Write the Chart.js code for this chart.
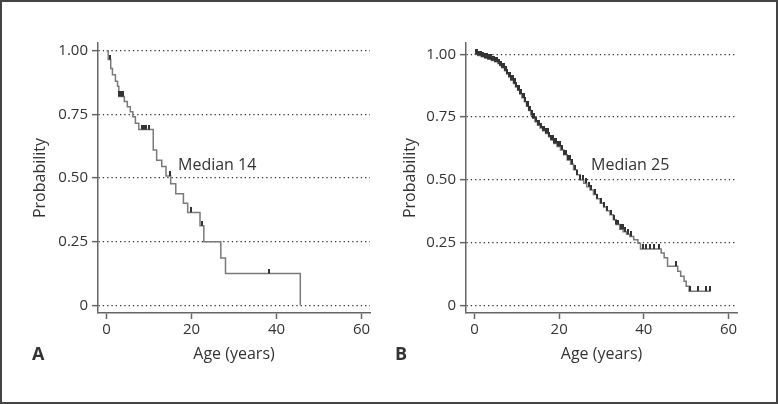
<!DOCTYPE html>
<html>
<head>
<meta charset="utf-8">
<script src="https://cdn.jsdelivr.net/npm/chart.js@4.4.1/dist/chart.umd.min.js"></script>
<style>
body { margin: 0; background: #fff; }
#wrap { position: relative; width: 778px; height: 404px; font-family: 'Open Sans', sans-serif; color: #333; }
#frame { position: absolute; left: 0; top: 0; width: 778px; height: 404px; box-sizing: border-box; border: 2px solid #444; pointer-events: none; }
canvas { position: absolute; top: 0; }
#chartA { left: 0; }
#chartB { left: 389px; }
.lbl { position: absolute; font-weight: bold; font-size: 18px; line-height: 18px; }
.med { position: absolute; font-size: 16px; line-height: 16px; white-space: nowrap; }
</style>
</head>
<body>
<div id="wrap">
  <canvas id="chartA" width="389" height="404"></canvas>
  <canvas id="chartB" width="389" height="404"></canvas>
  <div class="med" style="left:178px;top:156px">Median 14</div>
  <div class="med" style="left:591px;top:156px">Median 25</div>
  <div class="lbl" style="left:32px;top:344px">A</div>
  <div class="lbl" style="left:395px;top:344px">B</div>
  <div id="frame"></div>
</div>
<script>
// Panel A - step points (age, survival after the step)
var ageA = [0, 0.4, 1.0, 1.4, 2.1, 2.6, 2.9, 4.2, 4.9, 5.6, 6.2, 6.8, 7.6, 11.0, 11.8, 13.0,
            14.0, 15.1, 16.3, 18.1, 19.1, 22.0, 22.9, 26.9, 28.0, 45.6];
var survA = [1.0, 0.965, 0.93, 0.905, 0.88, 0.86, 0.82, 0.80, 0.78, 0.76, 0.74, 0.715, 0.69, 0.61, 0.57, 0.545,
             0.508, 0.477, 0.438, 0.401, 0.365, 0.3125, 0.25, 0.186, 0.125, 0];
var censorA = [0.9, 3.0, 3.3, 3.6, 3.9, 8.3, 8.8, 9.4, 10.0, 15.0, 19.8, 22.4, 38.2];

// Panel B
var ageB = [0, 0.8, 1.6, 2.4, 3.2, 4.0, 4.8, 5.5, 6.0, 6.5, 7.1, 7.6, 8.1, 8.6, 9.2, 9.7,
            10.2, 10.7, 11.2, 11.8, 12.3, 12.8, 13.3, 13.8, 14.3, 14.9, 15.5, 16.1, 16.8, 17.5, 18.1, 18.8,
            19.5, 20.3, 21.1, 21.9, 22.7, 23.4, 24.2, 25.0, 25.8, 26.5, 27.3, 28.1, 28.9, 29.7, 30.5, 31.2,
            32.0, 32.8, 33.5, 34.3, 35.1, 35.9, 36.7, 37.6, 38.6, 39.2, 44.1, 44.8, 45.6, 48.0, 48.7, 49.5,
            50.0, 50.7, 55.8];
var survB = [1.0, 0.995, 0.99, 0.985, 0.98, 0.975, 0.97, 0.963, 0.955, 0.946, 0.935, 0.922, 0.91, 0.897, 0.884, 0.87,
             0.857, 0.842, 0.827, 0.811, 0.793, 0.776, 0.758, 0.745, 0.731, 0.718, 0.707, 0.696, 0.685, 0.672, 0.659, 0.645,
             0.633, 0.619, 0.600, 0.579, 0.562, 0.540, 0.520, 0.500, 0.487, 0.473, 0.460, 0.442, 0.425, 0.407, 0.392, 0.377,
             0.361, 0.341, 0.322, 0.303, 0.293, 0.284, 0.275, 0.262, 0.248, 0.225, 0.209, 0.19, 0.156, 0.136, 0.116, 0.096,
             0.077, 0.057, 0.057];
var censorB = [0.3, 0.6, 0.9, 1.2, 1.5, 1.8, 2.1, 2.4, 2.7, 3.0, 3.3, 3.6, 3.9, 4.2, 4.5, 4.8, 5.1, 5.4, 5.7, 6.0,
               6.3, 6.6, 6.9, 7.2, 7.5, 7.8, 8.1, 8.4, 8.7, 9.0, 9.3, 9.6, 9.9, 10.2, 10.5, 10.8, 11.1, 11.4, 11.7, 12.0,
               12.3, 12.6, 12.9, 13.2, 13.5, 13.8, 14.1, 14.5, 14.9, 15.3, 15.7, 16.1, 16.5, 16.9, 17.3, 17.7, 18.1, 18.5,
               18.9, 19.3, 19.7, 20.1, 20.6, 21.1, 21.6, 22.1, 22.6, 23.1, 23.7, 24.3, 25.0, 25.6, 26.3, 27.0, 27.6, 28.4,
               29.0, 29.9, 30.6, 31.4, 32.2, 33.0, 33.5, 34.0, 34.5, 35.0, 35.5, 36.2, 37.0, 39.8, 40.4, 41.4, 42.5, 43.6,
               47.6, 50.9, 52.9, 54.6, 55.7];

var xTicks = [0, 20, 40, 60];
var yTickLabels = { '0': '0', '0.25': '0.25', '0.5': '0.50', '0.75': '0.75', '1': '1.00' };

Chart.defaults.font.family = "'Open Sans', sans-serif";
Chart.defaults.color = '#333';

// small vertical tick used as the censor mark (sits on top of the line)
var tickImg = document.createElement('canvas');
tickImg.width = 2;
tickImg.height = 10;
var g = tickImg.getContext('2d');
g.fillStyle = '#333';
g.fillRect(0, 0, 2, 5);

function survAt(ages, surv, t) {
    var s = surv[0];
    for (var i = 0; i < ages.length; i++) {
        if (ages[i] <= t) s = surv[i];
    }
    return s;
}

function makeChart(id, ages, surv, censor, yMax, yWidth, padRight, titlePad) {
    var ctx = document.getElementById(id).getContext('2d');
    return new Chart(ctx, {
        type: 'line',
        data: {
            datasets: [{
                data: censor.map(function (t) { return { x: t, y: survAt(ages, surv, t) }; }),
                showLine: false,
                pointStyle: tickImg,
                pointRadius: 5,
                order: 0
            }, {
                data: ages.map(function (a, i) { return { x: a, y: surv[i] }; }),
                stepped: true,
                borderColor: '#7a7a7a',
                borderWidth: 1.5,
                pointRadius: 0,
                fill: false,
                order: 1
            }]
        },
        options: {
            responsive: false,
            animation: false,
            events: [],
            layout: { padding: { top: 43, right: padRight, bottom: 0, left: 0 } },
            plugins: { legend: { display: false }, tooltip: { enabled: false } },
            scales: {
                x: {
                    type: 'linear',
                    min: -2,
                    max: 62,
                    afterFit: function (s) { s.height = 91; },
                    afterBuildTicks: function (s) { s.ticks = xTicks.map(function (v) { return { value: v }; }); },
                    ticks: { font: { size: 15 }, padding: 2, maxRotation: 0 },
                    grid: { drawOnChartArea: false, tickLength: 6, tickColor: '#666', tickWidth: 1.5 },
                    border: { color: '#666', width: 1.5 },
                    title: { display: true, text: 'Age (years)', font: { size: 16 }, padding: { top: 0, bottom: 40 } }
                },
                y: {
                    min: -0.03,
                    max: yMax,
                    afterFit: function (s) { s.width = yWidth; },
                    ticks: {
                        stepSize: 0.25,
                        includeBounds: false,
                        font: { size: 15 },
                        padding: 4,
                        callback: function (v) { return yTickLabels[String(v)]; }
                    },
                    grid: { color: '#333', lineWidth: 1.3, tickLength: 6, tickColor: '#666', tickWidth: 1.5, tickBorderDash: [] },
                    border: { color: '#666', width: 1.5, dash: [1.3, 3] },
                    title: { display: true, text: 'Probability', font: { size: 16 }, padding: { top: titlePad, bottom: 0 } }
                }
            }
        }
    });
}

makeChart('chartA', ageA, survA, censorA, 1.03, 98, 19, 31);
makeChart('chartB', ageB, survB, censorB, 1.045, 77, 41, 12);
</script>
</body>
</html>
